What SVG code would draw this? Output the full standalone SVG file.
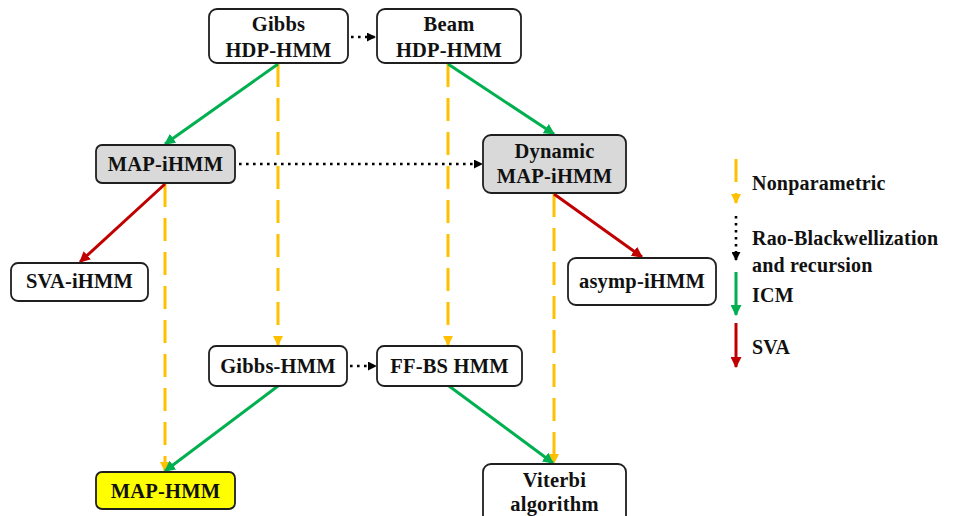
<svg xmlns="http://www.w3.org/2000/svg" width="953" height="516" viewBox="0 0 953 516">
  <defs>
    <marker id="ah-orange" viewBox="0 0 10 10" refX="9" refY="5" markerWidth="10" markerHeight="10" markerUnits="userSpaceOnUse" orient="auto">
      <path d="M0,0 L10,5 L0,10 z" fill="#FFC000"/>
    </marker>
    <marker id="ah-green" viewBox="0 0 10 10" refX="9" refY="5" markerWidth="11" markerHeight="11" markerUnits="userSpaceOnUse" orient="auto">
      <path d="M0,0 L10,5 L0,10 z" fill="#00B050"/>
    </marker>
    <marker id="ah-red" viewBox="0 0 10 10" refX="9" refY="5" markerWidth="11" markerHeight="11" markerUnits="userSpaceOnUse" orient="auto">
      <path d="M0,0 L10,5 L0,10 z" fill="#C00000"/>
    </marker>
    <marker id="ah-black" viewBox="0 0 10 10" refX="9" refY="5" markerWidth="9" markerHeight="9" markerUnits="userSpaceOnUse" orient="auto">
      <path d="M0,0 L10,5 L0,10 z" fill="#000000"/>
    </marker>
  </defs>
  <style>
    .box { fill: #FFFFFF; stroke: #1F1F1F; stroke-width: 1.8; }
    .gray { fill: #D9D9D9; }
    .yellow { fill: #FFFF00; }
    .lbl { font-family: "Liberation Serif", "Times New Roman", serif; font-weight: bold; font-size: 20.5px; letter-spacing: 0.2px; fill: #111111; text-anchor: middle; }
    .leg { font-family: "Liberation Serif", "Times New Roman", serif; font-weight: bold; font-size: 20px; letter-spacing: 0.2px; fill: #111111; }
    .np { stroke: #FFC000; stroke-width: 3; stroke-dasharray: 23 11; fill: none; marker-end: url(#ah-orange); }
    .icm { stroke: #00B050; stroke-width: 3; fill: none; marker-end: url(#ah-green); }
    .sva { stroke: #C00000; stroke-width: 3; fill: none; marker-end: url(#ah-red); }
    .rb { stroke: #000000; stroke-width: 2.6; stroke-dasharray: 2.6 4.4; fill: none; marker-end: url(#ah-black); }
  </style>

  <rect width="953" height="516" fill="#FFFFFF"/>

  <!-- connectors -->
  <g id="connectors">
    <!-- nonparametric (dashed orange) -->
    <line class="np" x1="278" y1="64" x2="278" y2="345"/>
    <line class="np" x1="448" y1="64" x2="448" y2="345"/>
    <line class="np" x1="165" y1="184" x2="165" y2="471"/>
    <line class="np" x1="554" y1="194" x2="554" y2="463"/>
    <!-- ICM (green) -->
    <line class="icm" x1="278" y1="64" x2="165" y2="144"/>
    <line class="icm" x1="448" y1="64" x2="554" y2="134"/>
    <line class="icm" x1="278" y1="386" x2="165" y2="471"/>
    <line class="icm" x1="449" y1="386" x2="553" y2="463"/>
    <!-- SVA (red) -->
    <line class="sva" x1="165" y1="184" x2="80" y2="262"/>
    <line class="sva" x1="554" y1="194" x2="642" y2="257"/>
    <!-- Rao-Blackwellization and recursion (dotted black) -->
    <line class="rb" x1="351" y1="37" x2="375" y2="37"/>
    <line class="rb" x1="239" y1="164" x2="482" y2="164"/>
    <line class="rb" x1="350" y1="366" x2="376" y2="366"/>
  </g>

  <!-- nodes -->
  <g id="gibbs-hdp-hmm">
    <rect class="box" x="209" y="9" width="139" height="54" rx="8"/>
    <text class="lbl" x="278.5" y="31">Gibbs</text>
    <text class="lbl" x="278.5" y="57">HDP-HMM</text>
  </g>
  <g id="beam-hdp-hmm">
    <rect class="box" x="377" y="9" width="144" height="54" rx="8"/>
    <text class="lbl" x="449" y="31">Beam</text>
    <text class="lbl" x="449" y="57">HDP-HMM</text>
  </g>
  <g id="map-ihmm">
    <rect class="box gray" x="96" y="145" width="139" height="38" rx="6"/>
    <text class="lbl" x="165.5" y="171">MAP-iHMM</text>
  </g>
  <g id="dynamic-map-ihmm">
    <rect class="box gray" x="483" y="135" width="143" height="58" rx="8"/>
    <text class="lbl" x="554.5" y="158">Dynamic</text>
    <text class="lbl" x="554.5" y="183">MAP-iHMM</text>
  </g>
  <g id="sva-ihmm">
    <rect class="box" x="11" y="263" width="137" height="38" rx="7"/>
    <text class="lbl" x="79.5" y="288">SVA-iHMM</text>
  </g>
  <g id="asymp-ihmm">
    <rect class="box" x="568" y="258" width="148" height="47" rx="8"/>
    <text class="lbl" x="642" y="288">asymp-iHMM</text>
  </g>
  <g id="gibbs-hmm">
    <rect class="box" x="209" y="346" width="138" height="40" rx="7"/>
    <text class="lbl" x="278" y="373">Gibbs-HMM</text>
  </g>
  <g id="ffbs-hmm">
    <rect class="box" x="377" y="346" width="145" height="40" rx="7"/>
    <text class="lbl" x="449.5" y="373">FF-BS HMM</text>
  </g>
  <g id="map-hmm">
    <rect class="box yellow" x="96" y="472" width="139" height="37" rx="6"/>
    <text class="lbl" x="165.5" y="498">MAP-HMM</text>
  </g>
  <g id="viterbi">
    <rect class="box" x="483" y="464" width="143" height="62" rx="8"/>
    <text class="lbl" x="554.5" y="487">Viterbi</text>
    <text class="lbl" x="554.5" y="511">algorithm</text>
  </g>

  <!-- legend -->
  <g id="legend">
    <line class="np" x1="736" y1="159" x2="736" y2="203" stroke-dasharray="25 11"/>
    <text class="leg" x="752" y="190">Nonparametric</text>
    <line class="rb" x1="736" y1="216" x2="736" y2="260"/>
    <text class="leg" x="752" y="245">Rao-Blackwellization</text>
    <text class="leg" x="752" y="272">and recursion</text>
    <line class="icm" x1="736" y1="272" x2="736" y2="315"/>
    <text class="leg" x="752" y="302">ICM</text>
    <line class="sva" x1="736" y1="323" x2="736" y2="367"/>
    <text class="leg" x="752" y="354">SVA</text>
  </g>
</svg>
